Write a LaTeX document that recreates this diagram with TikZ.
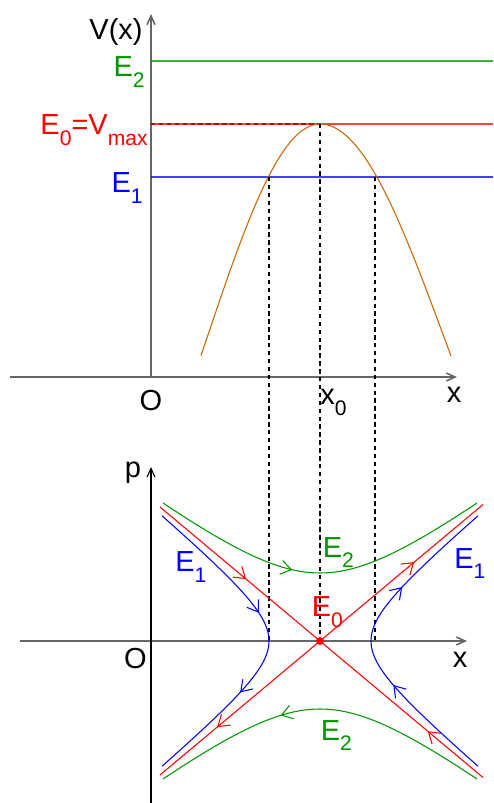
\documentclass[tikz,border=0pt]{standalone}
\usepackage{fontspec}
\setmainfont{Liberation Sans}
\usetikzlibrary{arrows.meta,decorations.markings}
\definecolor{levelgreen}{RGB}{0,150,0}
\definecolor{curvebrown}{RGB}{204,102,0}
\newcommand{\lowsub}[1]{\raisebox{-6pt}{\fontsize{12}{14}\selectfont #1}}
\begin{document}
\begin{tikzpicture}[
  every node/.style={inner sep=0pt, font=\fontsize{16.5}{19}\selectfont},
  axisline/.style={draw=black!60, line width=0.9pt, -{Straight Barb[length=5pt,width=4.5pt]}},
  energy/.style={line width=0.9pt, draw opacity=0.75},
  guide/.style={dash pattern=on 2.5pt off 2pt, line width=0.6pt},
  orbit/.style={line width=0.6pt},
  flow/.style={postaction={decorate, decoration={markings, mark=at position #1 with {\arrow{Straight Barb[length=6pt,width=8pt]}}}}}]
  \useasboundingbox (-3.02,-8.52) rectangle (6.84,7.54);

  % Points
  \coordinate (O1) at (0,0);
  \coordinate (xl1) at (-2.82,0);
  \coordinate (xr1) at (6.12,0);
  \coordinate (Vtop) at (0,7.26);
  \coordinate (peak) at (3.38,5.06);
  \coordinate (t1) at (2.36,4);
  \coordinate (t2) at (4.48,4);
  \coordinate (O2) at (0,-5.28);
  \coordinate (xl2) at (-2.62,-5.28);
  \coordinate (xr2) at (6.32,-5.28);
  \coordinate (pbot) at (0,-8.52);
  \coordinate (ptop) at (0,-1.8);
  \coordinate (saddle) at (3.38,-5.28);
  \coordinate (v1) at (2.36,-5.28);
  \coordinate (v2) at (4.48,-5.28);
  \coordinate (ul) at (0.18,-2.6);
  \coordinate (ll) at (0.18,-7.96);
  \coordinate (ur) at (6.64,-2.55);
  \coordinate (lr) at (6.64,-8.01);

  % Potential
  \draw[axisline] (xl1) -- (xr1);
  \draw[axisline] (O1) -- (Vtop);
  \draw[energy, levelgreen] (0,6.32) -- (6.84,6.32);
  \draw[guide] (0,5.06) -- (peak);
  \draw[energy, red] (0,5.06) -- (6.84,5.06);
  \draw[energy, blue] (0,4) -- (6.84,4);
  \draw[curvebrown, line width=0.6pt]
    plot[domain=1:3.38, samples=40] (\x, {5.06-4.23*(1-cos(deg(0.7*(\x-3.38))))})
    -- plot[domain=3.38:6, samples=40] (\x, {5.06-4.23*(1-cos(deg(0.7*(\x-3.38)/1.1)))});

  % Guides
  \draw[guide] (t1) -- (v1);
  \draw[guide] (peak) -- (saddle);
  \draw[guide] (t2) -- (v2);

  % Phase plane
  \draw[axisline] (xl2) -- (xr2);
  \draw[line width=0.6pt, -{Straight Barb[length=5pt,width=4.5pt]}] (pbot) -- (ptop);
  \draw[orbit, red, flow=0.54] (ul) -- (saddle);
  \draw[orbit, red, flow=0.645] (saddle) -- (ll);
  \draw[orbit, red, flow=0.58] (saddle) -- (ur);
  \draw[orbit, red, flow=0.34] (lr) -- (saddle);
  \draw[orbit, blue, flow=0.41, flow=0.68]
    plot[domain=-1.797:1.797, samples=61, variable=\u] ({3.38-1.02*cosh(\u)}, {-5.28-0.854*sinh(\u)});
  \draw[orbit, blue, flow=0.35, flow=0.69]
    plot[domain=-1.797:1.797, samples=61, variable=\u] ({3.38+1.02*cosh(\u)}, {-5.28+0.854*sinh(\u)});
  \draw[orbit, levelgreen, flow=0.42]
    plot[domain=-1.334:1.334, samples=61, variable=\u] ({3.38+1.778*sinh(\u)}, {-5.28+1.36*cosh(\u)});
  \draw[orbit, levelgreen, flow=0.615]
    plot[domain=-1.334:1.334, samples=61, variable=\u] ({3.38-1.778*sinh(\u)}, {-5.28-1.36*cosh(\u)});
  \fill[red] (saddle) circle (0.08);

  % Labels
  \node[anchor=base east] (Vlab) at (-0.16,6.74) {V(x)};
  \node[anchor=base east, text=levelgreen] (E2lab) at (-0.12,6.0) {E\lowsub{2}};
  \node[anchor=base east, text=red] (E0lab) at (-0.06,4.84) {E\lowsub{0}=V\lowsub{max}};
  \node[anchor=base east, text=blue] (E1lab) at (-0.16,3.68) {E\lowsub{1}};
  \node[anchor=base] (Olab1) at (0,-0.68) {O};
  \node[anchor=base west] (x0lab) at (3.38,-0.56) {x\lowsub{0}};
  \node[anchor=base] (xlab1) at (6.06,-0.52) {x};
  \node[anchor=base] (plab) at (-0.36,-2.02) {p};
  \node[anchor=base] (Olab2) at (-0.31,-5.82) {O};
  \node[anchor=base] (xlab2) at (6.18,-5.8) {x};
  \node[anchor=base west, text=blue] (E1left) at (0.48,-3.9) {E\lowsub{1}};
  \node[anchor=base west, text=levelgreen] (E2up) at (3.43,-3.6) {E\lowsub{2}};
  \node[anchor=base west, text=blue] (E1right) at (6.06,-3.82) {E\lowsub{1}};
  \node[anchor=base west, text=red] (E0pt) at (3.21,-4.79) {E\lowsub{0}};
  \node[anchor=base west, text=levelgreen] (E2down) at (3.39,-7.26) {E\lowsub{2}};
\end{tikzpicture}
\end{document}
